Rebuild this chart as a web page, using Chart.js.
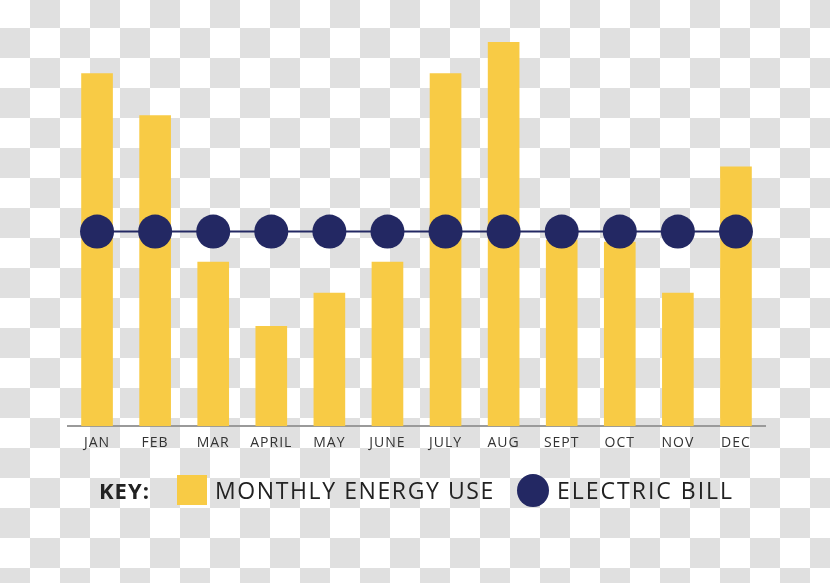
<!DOCTYPE html>
<html>
<head>
<meta charset="utf-8">
<script src="https://cdn.jsdelivr.net/npm/chart.js@4.4.1/dist/chart.umd.min.js"></script>
<style>
  html, body {
    margin: 0;
    padding: 0;
  }
  body {
    width: 830px;
    height: 583px;
    overflow: hidden;
    position: relative;
    background-color: #ffffff;
    background-image: conic-gradient(#e0e0e0 25%, transparent 0 50%, #e0e0e0 0 75%, transparent 0);
    background-size: 60px 60px;
    background-position: 0 -2px;
    font-family: "Open Sans", sans-serif;
  }
  #wrap {
    position: absolute;
    left: 0;
    top: 0;
    width: 830px;
    height: 583px;
  }
  .key {
    position: absolute;
    top: 474px;
    left: 0;
    height: 32px;
    display: flex;
    align-items: center;
    color: #222;
    font-size: 23px;
    letter-spacing: 1.6px;
  }
  .key b { position: absolute; left: 99px; font-size: 22px; letter-spacing: 1px; }
  .sq { position: absolute; left: 177px; top: 1px; width: 30px; height: 30px; background: #f8cb45; }
  .t1 { position: absolute; left: 215px; white-space: nowrap; }
  .dot { position: absolute; left: 517px; top: 0; width: 32px; height: 33px; border-radius: 50%; background: #232863; }
  .t2 { position: absolute; left: 557px; white-space: nowrap; letter-spacing: 2px; }
</style>
</head>
<body>
<div id="wrap"><canvas id="energyChart"></canvas></div>
<div class="key">
  <b>KEY:</b>
  <span class="sq"></span>
  <span class="t1">MONTHLY ENERGY USE</span>
  <span class="dot"></span>
  <span class="t2">ELECTRIC BILL</span>
</div>
<script>
const months = ["JAN", "FEB", "MAR", "APRIL", "MAY", "JUNE", "JULY", "AUG", "SEPT", "OCT", "NOV", "DEC"];
const energyUse = [352, 310, 164, 100, 133, 164, 352, 383, 186, 184, 133, 259];
const electricBill = [194, 194, 194, 194, 194, 194, 194, 194, 194, 194, 194, 194];

Chart.defaults.font.family = "'Open Sans', sans-serif";

// wider tick lettering, like the original
const spacing = {
  id: "spacing",
  beforeDraw: (chart) => {
    chart.ctx.letterSpacing = "1px";
  }
};

new Chart(
  document.getElementById("energyChart"),
  {
    data: {
      labels: months,
      datasets: [
        {
          type: "line",
          label: "Electric Bill",
          data: electricBill,
          borderColor: "#232863",
          backgroundColor: "#232863",
          borderWidth: 2,
          pointRadius: 17,
          pointHoverRadius: 17,
          pointBorderWidth: 0,
          order: 1,
        },
        {
          type: "bar",
          label: "Monthly Energy Use",
          data: energyUse,
          backgroundColor: "#f8cb45",
          barPercentage: 0.545,
          categoryPercentage: 1.0,
          order: 2,
        },
      ]
    },
    options: {
      responsive: true,
      maintainAspectRatio: false,
      animation: false,
      layout: {
        padding: { left: 68, right: 65, top: 25, bottom: 124 }
      },
      scales: {
        x: {
          offset: true,
          grid: {
            display: false,
            drawTicks: false,
          },
          border: {
            display: true,
            color: "#9a9a9a",
            width: 2,
          },
          ticks: {
            padding: 8,
            color: "#333",
            font: { size: 14 },
          },
        },
        y: {
          display: false,
          min: 0,
          max: 400,
        },
      },
      plugins: {
        legend: { display: false },
        tooltip: { enabled: false },
      },
    },
    plugins: [spacing],
  }
);
</script>
</body>
</html>
